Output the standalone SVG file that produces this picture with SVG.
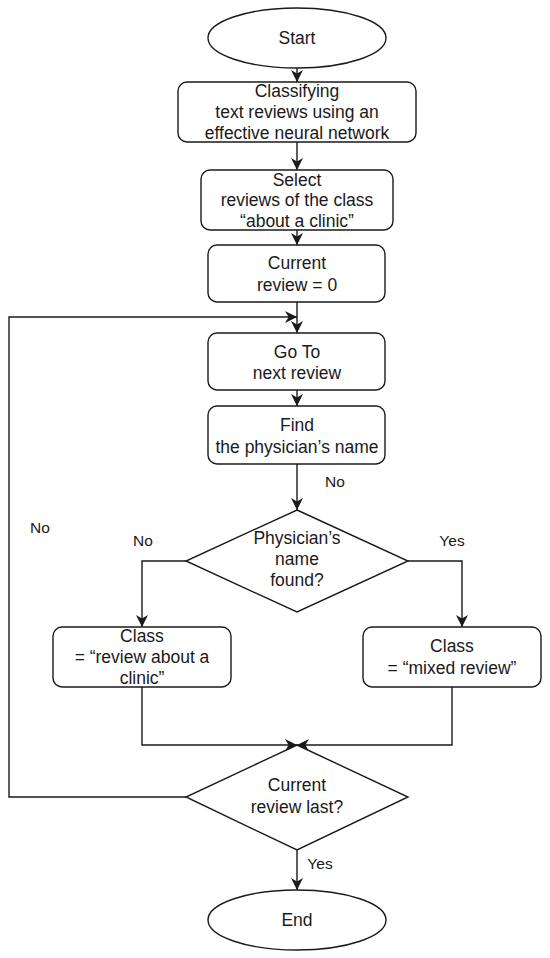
<svg xmlns="http://www.w3.org/2000/svg" width="550" height="958" viewBox="0 0 550 958">
<defs>
<style>
.s{fill:#fff;stroke:#1a1a1a;stroke-width:1.4}
.c{fill:none;stroke:#1a1a1a;stroke-width:1.4}
text{font-family:"Liberation Sans",Arial,sans-serif;font-size:17.5px;fill:#1a1a1a;text-anchor:middle;dominant-baseline:central}
.lb{font-size:15.5px}
</style>
<marker id="a" viewBox="0 0 10 10" refX="10" refY="5" markerWidth="12" markerHeight="12" markerUnits="userSpaceOnUse" orient="auto">
<path d="M0,0 L10,5 L0,10 L3,5 z" fill="#1a1a1a"/>
</marker>
</defs>
<rect width="550" height="958" fill="#fff"/>
<g id="connectors">
<path class="c" d="M297,68 V82" marker-end="url(#a)"/>
<path class="c" d="M297,142 V170" marker-end="url(#a)"/>
<path class="c" d="M297,230 V245" marker-end="url(#a)"/>
<path class="c" d="M297,302 V333" marker-end="url(#a)"/>
<path class="c" d="M297,390 V406" marker-end="url(#a)"/>
<path class="c" d="M297,464 V510" marker-end="url(#a)"/>
<path class="c" d="M186,561 H142 V627" marker-end="url(#a)"/>
<path class="c" d="M408,561 H462 V627" marker-end="url(#a)"/>
<path class="c" d="M142,687 V745 H297" marker-end="url(#a)"/>
<path class="c" d="M452,687 V745 H297" marker-end="url(#a)"/>
<path class="c" d="M186,797 H9 V317 H297" marker-end="url(#a)"/>
<path class="c" d="M297,850 V890" marker-end="url(#a)"/>
<text class="lb" x="335" y="481">No</text>
<text class="lb" x="143" y="540">No</text>
<text class="lb" x="452" y="540">Yes</text>
<text class="lb" x="40" y="527">No</text>
<text class="lb" x="320" y="863">Yes</text>
</g>
<g id="start">
<ellipse class="s" cx="297" cy="38" rx="89" ry="30"/>
<text x="297" y="38">Start</text>
</g>
<g id="classify">
<rect class="s" x="178" y="82" width="238" height="60" rx="9"/>
<text x="297" y="91">Classifying</text>
<text x="297" y="112">text reviews using an</text>
<text x="297" y="133">effective neural network</text>
</g>
<g id="select">
<rect class="s" x="201" y="170" width="192" height="60" rx="9"/>
<text x="297" y="180">Select</text>
<text x="297" y="200">reviews of the class</text>
<text x="297" y="221">“about a clinic”</text>
</g>
<g id="current">
<rect class="s" x="208" y="245" width="177" height="57" rx="9"/>
<text x="297" y="263">Current</text>
<text x="297" y="285">review = 0</text>
</g>
<g id="goto">
<rect class="s" x="208" y="333" width="177" height="57" rx="9"/>
<text x="297" y="352">Go To</text>
<text x="297" y="373">next review</text>
</g>
<g id="find">
<rect class="s" x="208" y="406" width="177" height="58" rx="9"/>
<text x="297" y="425">Find</text>
<text x="297" y="447">the physician’s name</text>
</g>
<g id="decision1">
<polygon class="s" points="297,510 408,561 297,612 186,561"/>
<text x="297" y="538">Physician’s</text>
<text x="297" y="559">name</text>
<text x="297" y="580">found?</text>
</g>
<g id="clinic">
<rect class="s" x="53" y="627" width="178" height="60" rx="9"/>
<text x="142" y="636">Class</text>
<text x="142" y="657">= “review about a</text>
<text x="142" y="678">clinic”</text>
</g>
<g id="mixed">
<rect class="s" x="363" y="627" width="178" height="60" rx="9"/>
<text x="452" y="646">Class</text>
<text x="452" y="668">= “mixed review”</text>
</g>
<g id="decision2">
<polygon class="s" points="297,745 408,797 297,850 186,797"/>
<text x="297" y="785">Current</text>
<text x="297" y="807">review last?</text>
</g>
<g id="end">
<ellipse class="s" cx="297" cy="920" rx="89" ry="30"/>
<text x="297" y="920">End</text>
</g>
</svg>
